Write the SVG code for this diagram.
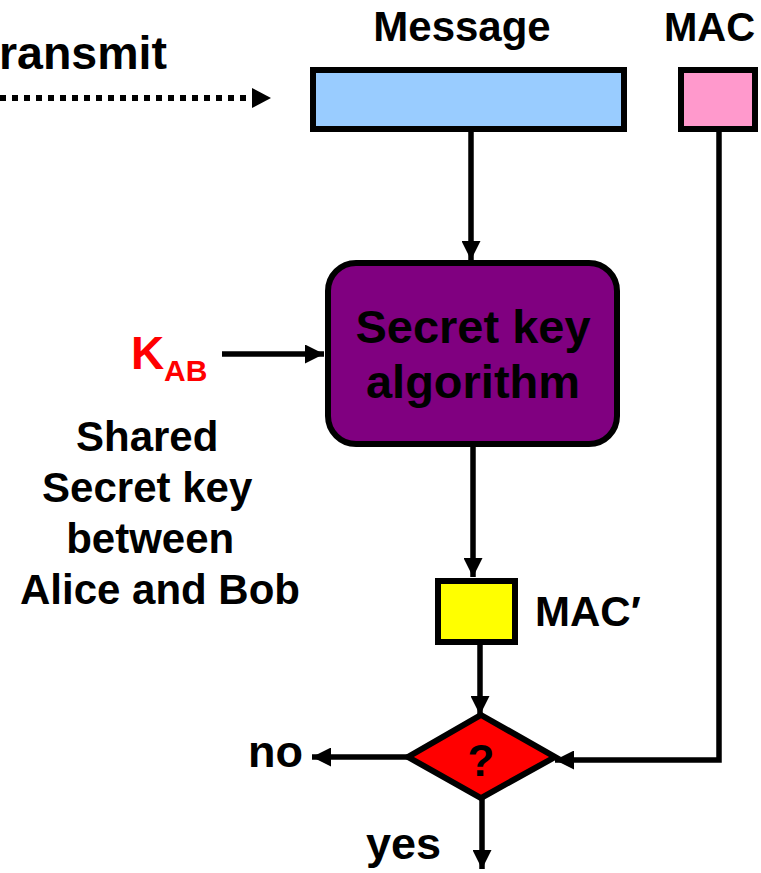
<svg xmlns="http://www.w3.org/2000/svg" width="761" height="873" viewBox="0 0 761 873">
  <style>
    .lbl { font-family: "Liberation Sans", Arial, sans-serif; font-weight: bold; fill: #000; }
    .box { stroke: #000; stroke-width: 6; }
    .wire { fill: none; stroke: #000; stroke-width: 5.5; }
  </style>
  <defs>
    <marker id="head" markerUnits="userSpaceOnUse" markerWidth="19" markerHeight="19" viewBox="0 0 19 19" refX="19" refY="9.5" orient="auto">
      <path d="M0,0 L19,9.5 L0,19 z" fill="#000"/>
    </marker>
  </defs>

  <rect width="761" height="873" fill="#fff"/>

  <!-- incoming transmission -->
  <g id="transmit">
    <text class="lbl" x="-1" y="69" font-size="46.5">ransmit</text>
    <line x1="0" y1="98" x2="252" y2="98" stroke="#000" stroke-width="6" stroke-dasharray="6 6"/>
    <path d="M252,88 L271,98 L252,108 z" fill="#000"/>
  </g>

  <g id="message">
    <text class="lbl" x="462" y="41" font-size="42" text-anchor="middle">Message</text>
    <rect class="box" x="313" y="70" width="311" height="59" fill="#99CCFF"/>
  </g>

  <g id="mac">
    <text class="lbl" x="664" y="41" font-size="40">MAC</text>
    <rect class="box" x="681" y="70" width="74" height="59" fill="#FF99CC"/>
  </g>

  <g id="algorithm">
    <rect class="box" x="328" y="263" width="289" height="181" rx="28" ry="28" fill="#800080"/>
    <text class="lbl" x="473" y="343" font-size="47" text-anchor="middle">Secret key</text>
    <text class="lbl" x="473" y="398" font-size="47" text-anchor="middle">algorithm</text>
  </g>

  <g id="key">
    <text class="lbl" x="131" y="369" font-size="46" style="fill:#FF0000">K</text>
    <text class="lbl" x="164" y="381" font-size="30" style="fill:#FF0000">AB</text>
    <text class="lbl" font-size="42" text-anchor="middle">
      <tspan x="153" y="451">Shared</tspan>
      <tspan x="153" y="502">Secret key</tspan>
      <tspan x="156" y="553">between</tspan>
      <tspan x="160" y="604">Alice and Bob</tspan>
    </text>
  </g>

  <g id="mac-prime">
    <rect class="box" x="438" y="581" width="77" height="61" fill="#FFFF00"/>
    <text class="lbl" x="535" y="626" font-size="42">MAC′</text>
  </g>

  <g id="compare">
    <path class="box" d="M481,715 L555,757 L481,798 L408,757 z" fill="#FF0000" stroke-linejoin="miter"/>
    <text x="481" y="776" font-family="Liberation Sans, Arial, sans-serif" font-weight="bold" font-size="44" text-anchor="middle" fill="#000">?</text>
  </g>

  <g id="outcomes">
    <text class="lbl" x="303" y="767" font-size="45" text-anchor="end">no</text>
    <text class="lbl" x="366" y="859" font-size="45">yes</text>
  </g>

  <g id="connectors">
    <line class="wire" x1="471" y1="132" x2="471" y2="260" marker-end="url(#head)"/>
    <line class="wire" x1="222" y1="354" x2="324" y2="354" marker-end="url(#head)"/>
    <line class="wire" x1="473" y1="447" x2="473" y2="577" marker-end="url(#head)"/>
    <line class="wire" x1="480" y1="645" x2="480" y2="715" marker-end="url(#head)"/>
    <path class="wire" d="M719,130 V760 H555" marker-end="url(#head)"/>
    <line class="wire" x1="408" y1="757" x2="312" y2="757" marker-end="url(#head)"/>
    <line class="wire" x1="482" y1="798" x2="482" y2="869" marker-end="url(#head)"/>
  </g>
</svg>
